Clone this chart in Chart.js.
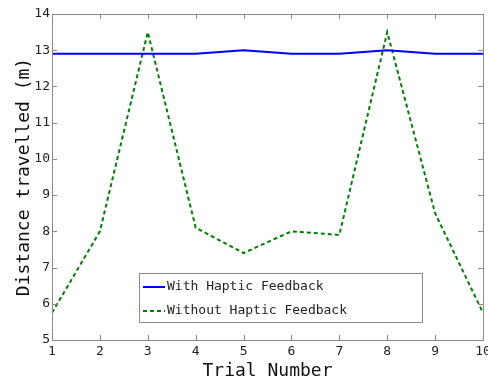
<!DOCTYPE html>
<html>
<head>
<meta charset="utf-8">
<script src="https://cdn.jsdelivr.net/npm/chart.js@4/dist/chart.umd.min.js"></script>
<style>
  html, body { margin: 0; padding: 0; background: #fff; overflow: hidden; }
  #wrap { position: relative; width: 496px; height: 382px; }
</style>
</head>
<body>
<div id="wrap"><canvas id="distChart"></canvas></div>
<script>
// Trial numbers and distances (m)
const trials = [1, 2, 3, 4, 5, 6, 7, 8, 9, 10];
const withHaptic = [12.9, 12.9, 12.9, 12.9, 13.0, 12.9, 12.9, 13.0, 12.9, 12.9];
const withoutHaptic = [5.75, 8.0, 13.5, 8.1, 7.4, 8.0, 7.9, 13.5, 8.5, 5.75];
const seriesNames = ['With Haptic Feedback', 'Without Haptic Feedback'];

const MONO = '"DejaVu Sans Mono", monospace';
const AXIS_COLOR = '#8a8a8a';

// box around the plot with inward ticks on all four sides
const boxTicks = {
    id: 'boxTicks',
    afterDatasetsDraw(chart) {
        const { ctx, chartArea: a, scales } = chart;
        const len = 5;
        ctx.save();
        ctx.strokeStyle = AXIS_COLOR;
        ctx.lineWidth = 1;
        ctx.strokeRect(Math.round(a.left) + 0.5, Math.round(a.top) + 0.5,
            Math.round(a.right - a.left), Math.round(a.bottom - a.top));
        ctx.beginPath();
        scales.x.ticks.forEach(t => {
            const px = Math.round(scales.x.getPixelForValue(t.value)) + 0.5;
            ctx.moveTo(px, a.bottom); ctx.lineTo(px, a.bottom - len);
            ctx.moveTo(px, a.top); ctx.lineTo(px, a.top + len);
        });
        scales.y.ticks.forEach(t => {
            const py = Math.round(scales.y.getPixelForValue(t.value)) + 0.5;
            ctx.moveTo(a.left, py); ctx.lineTo(a.left + len, py);
            ctx.moveTo(a.right, py); ctx.lineTo(a.right - len, py);
        });
        ctx.stroke();
        ctx.restore();
    }
};

// legend box inside the plot, lower middle
const boxLegend = {
    id: 'boxLegend',
    afterDraw(chart) {
        const { ctx } = chart;
        const x0 = 139, y0 = 273, w = 283, h = 49;
        ctx.save();
        ctx.fillStyle = '#fff';
        ctx.fillRect(x0, y0, w, h);
        ctx.strokeStyle = AXIS_COLOR;
        ctx.lineWidth = 1;
        ctx.strokeRect(x0 + 0.5, y0 + 0.5, w, h);
        ctx.font = '13px ' + MONO;
        ctx.textBaseline = 'middle';
        chart.data.datasets.forEach((ds, i) => {
            const yy = y0 + 14 + i * 24;
            ctx.strokeStyle = ds.borderColor;
            ctx.lineWidth = ds.borderWidth;
            ctx.setLineDash(ds.borderDash || []);
            ctx.beginPath();
            ctx.moveTo(x0 + 4, yy);
            ctx.lineTo(x0 + 26, yy);
            ctx.stroke();
            ctx.setLineDash([]);
            ctx.fillStyle = '#222';
            ctx.fillText(ds.label, x0 + 28, yy);
        });
        ctx.restore();
    }
};

new Chart(document.getElementById('distChart'), {
    type: 'line',
    data: {
        labels: trials,
        datasets: [{
            label: seriesNames[0],
            data: trials.map((t, i) => ({ x: t, y: withHaptic[i] })),
            borderColor: '#0000ff',
            borderWidth: 2,
            pointRadius: 0,
            tension: 0
        }, {
            label: seriesNames[1],
            data: trials.map((t, i) => ({ x: t, y: withoutHaptic[i] })),
            borderColor: '#008000',
            borderWidth: 2,
            borderDash: [4, 3],
            pointRadius: 0,
            tension: 0
        }]
    },
    options: {
        responsive: true,
        maintainAspectRatio: false,
        animation: false,
        layout: { padding: { left: 0, top: 14, right: 13, bottom: 0 } },
        scales: {
            x: {
                type: 'linear',
                min: 1, max: 10,
                border: { display: false },
                grid: { display: false, drawTicks: false },
                ticks: { stepSize: 1, color: '#222', padding: 4, font: { family: MONO, size: 13 } },
                title: { display: true, text: 'Trial Number', color: '#111', padding: { top: 0, bottom: 0 },
                         font: { family: MONO, size: 18 } },
                afterFit(scale) { scale.height = 42; }
            },
            y: {
                min: 5, max: 14,
                border: { display: false },
                grid: { display: false, drawTicks: false },
                ticks: { stepSize: 1, color: '#222', padding: 2, font: { family: MONO, size: 13 } },
                title: { display: true, text: 'Distance travelled (m)', color: '#111', padding: { top: 14, bottom: 0 },
                         font: { family: MONO, size: 18 } },
                afterFit(scale) { scale.width = 52; }
            }
        },
        plugins: {
            legend: { display: false },
            tooltip: { enabled: false }
        }
    },
    plugins: [boxTicks, boxLegend]
});
</script>
</body>
</html>
